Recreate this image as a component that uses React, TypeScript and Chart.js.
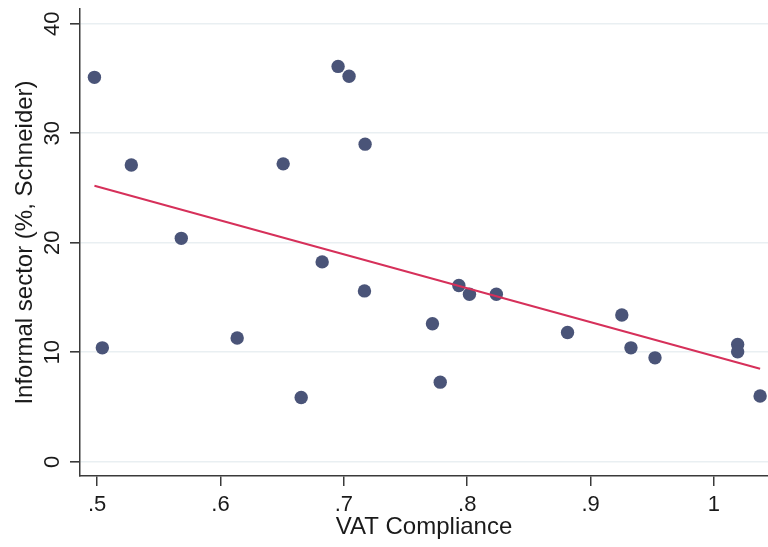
import React, { useEffect, useRef } from "react";
import { Chart, registerables } from "chart.js";

Chart.register(...registerables);

// VAT compliance (x) and informal sector size (% Schneider) (y)
const vatCompliance = [
  0.4978, 0.5042, 0.5277, 0.5682, 0.6135, 0.6508, 0.6654, 0.6824, 0.6953, 0.7042,
  0.7172, 0.7167, 0.7718, 0.7781, 0.7932, 0.8018, 0.8236, 0.8813, 0.9253, 0.9327,
  0.9522, 1.0192, 1.0192, 1.0374,
];
const informalSector = [
  35.1, 10.4, 27.1, 20.4, 11.3, 27.2, 5.87, 18.25, 36.1, 35.2,
  29.0, 15.6, 12.6, 7.27, 16.1, 15.3, 15.3, 11.8, 13.4, 10.4,
  9.49, 10.7, 10.04, 6.0,
];
// Fitted line endpoints
const fitX = [0.4978, 1.0374];
const fitY = [25.2, 8.5];

const xTicks = [0.5, 0.6, 0.7, 0.8, 0.9, 1.0];
const xTickLabels = [".5", ".6", ".7", ".8", ".9", "1"];
const yTicks = [0, 10, 20, 30, 40];
const yTickLabels = ["0", "10", "20", "30", "40"];

const FONT = "'Liberation Sans', Arial, sans-serif";
const TEXT = "#1a1a1a";
const AXIS = "#3a3a3a";

const rotatedYLabels = {
  id: "rotatedYLabels",
  afterDraw(chart: any) {
    const scale = chart.scales.y;
    const ctx = chart.ctx;
    ctx.save();
    ctx.fillStyle = TEXT;
    ctx.font = `22px ${FONT}`;
    ctx.textAlign = "center";
    ctx.textBaseline = "middle";
    yTicks.forEach((v, i) => {
      const y = scale.getPixelForValue(v);
      ctx.save();
      ctx.translate(scale.right - 27, y);
      ctx.rotate(-Math.PI / 2);
      ctx.fillText(yTickLabels[i], 0, 0);
      ctx.restore();
    });
    ctx.restore();
  },
};

export default function App() {
  const ref = useRef<HTMLCanvasElement>(null);
  useEffect(() => {
    if (!ref.current) return;
    const chart = new Chart(ref.current, {
      type: "scatter",
      data: {
        datasets: [
          {
            type: "line",
            label: "Fitted values",
            data: fitX.map((x, i) => ({ x, y: fitY[i] })),
            borderColor: "#d6305a",
            borderWidth: 2,
            pointRadius: 0,
            fill: false,
            order: 0,
          },
          {
            type: "scatter",
            label: "Informal sector",
            data: vatCompliance.map((x, i) => ({ x, y: informalSector[i] })),
            backgroundColor: "#4a5478",
            borderWidth: 0,
            pointRadius: 6.7,
            order: 1,
          },
        ],
      },
      options: {
        animation: false,
        responsive: false,
        layout: { autoPadding: false, padding: { top: 9, left: 0, right: 0, bottom: 0 } },
        plugins: { legend: { display: false }, tooltip: { enabled: false } },
        scales: {
          x: {
            type: "linear",
            min: 0.4861,
            max: 1.0438,
            afterBuildTicks: (s: any) => {
              s.ticks = xTicks.map((v) => ({ value: v }));
            },
            afterFit: (s: any) => {
              s.height = 71;
            },
            ticks: {
              color: TEXT,
              font: { family: FONT, size: 22 },
              padding: 6,
              maxRotation: 0,
              callback: (v: any) => {
                const i = xTicks.findIndex((t) => Math.abs(t - Number(v)) < 1e-6);
                return i >= 0 ? xTickLabels[i] : "";
              },
            },
            grid: {
              display: true,
              drawOnChartArea: false,
              drawTicks: true,
              tickLength: 10,
              tickColor: AXIS,
              lineWidth: 1.5,
            },
            border: { display: true, color: AXIS, width: 1.5 },
            title: {
              display: true,
              text: "VAT Compliance",
              color: TEXT,
              font: { family: FONT, size: 24 },
              padding: { top: 0, bottom: 5.6 },
            },
          },
          y: {
            type: "linear",
            min: -1.3,
            max: 41.34,
            afterBuildTicks: (s: any) => {
              s.ticks = yTicks.map((v) => ({ value: v }));
            },
            afterFit: (s: any) => {
              s.width = 80;
            },
            ticks: { display: false },
            grid: {
              display: true,
              drawOnChartArea: true,
              drawTicks: true,
              tickLength: 10,
              color: "#e9eff2",
              tickColor: AXIS,
              lineWidth: 1.6,
            },
            border: { display: true, color: AXIS, width: 1.5 },
            title: {
              display: true,
              text: "Informal sector (%, Schneider)",
              color: TEXT,
              font: { family: FONT, size: 24 },
              padding: { top: 10.6, bottom: 0 },
            },
          },
        },
      },
      plugins: [rotatedYLabels],
    } as any);
    return () => chart.destroy();
  }, []);
  return (
    <div style={{ position: "fixed", left: 0, top: 0, width: 768, height: 547, background: "#fff" }}>
      <canvas ref={ref} width={768} height={547} style={{ width: 768, height: 547, display: "block" }} />
    </div>
  );
}
